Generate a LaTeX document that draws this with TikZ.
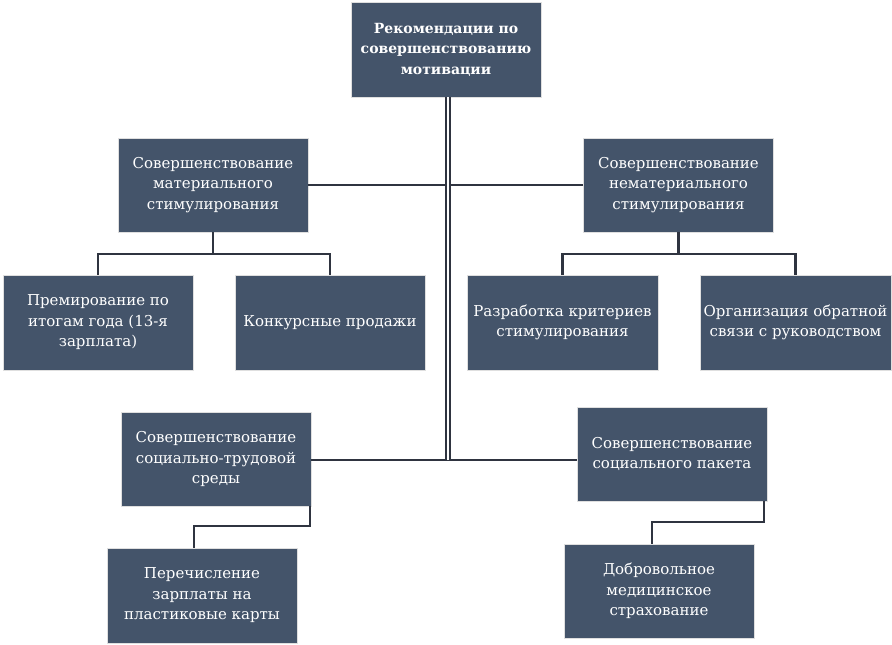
\documentclass[tikz,border=0pt]{standalone}
\usepackage{fontspec}
\setmainfont{DejaVu Serif}
\newfontfamily\boxfont{DejaVu Serif}
\definecolor{boxc}{HTML}{44546A}
\definecolor{linec}{HTML}{2F3440}
\begin{document}
\begin{tikzpicture}[x=1pt,y=-1pt,
  box/.style={rectangle, fill=boxc, draw=gray!25, line width=0.6pt, text=white,
    align=center, inner sep=0pt, minimum width=190pt, minimum height=94pt,
    font=\boxfont\fontsize{15}{20.5}\selectfont},
  conn/.style={draw=linec, line width=2.2pt},
  mainline/.style={draw=linec, line width=2pt, double=white, double distance=1.8pt}
]
\useasboundingbox (0,0) rectangle (892,645);
\fill[white] (0,0) rectangle (892,645);

\node[box, minimum height=95pt, font=\boxfont\bfseries\fontsize{14}{20.5}\selectfont] (top) at (446,49.5)
  {Рекомендации по\\совершенствованию\\мотивации};

\node[box] (mat) at (213,185) {Совершенствование\\материального\\стимулирования};
\node[box] (nonmat) at (678.5,185) {Совершенствование\\нематериального\\стимулирования};

\node[box, minimum height=95pt] (b1) at (98,322.5) {Премирование по\\итогам года (13-я\\зарплата)};
\node[box, minimum height=95pt] (b2) at (330,322.5) {Конкурсные продажи};
\node[box, minimum height=95pt, minimum width=191pt] (b3) at (562.5,322.5) {Разработка критериев\\стимулирования};
\node[box, minimum height=95pt, minimum width=191pt] (b4) at (795.5,322.5) {Организация обратной\\связи с руководством};

\node[box] (sl) at (216,459) {Совершенствование\\социально-трудовой\\среды};
\node[box] (sp) at (672,454) {Совершенствование\\социального пакета};

\node[box, minimum height=95pt] (per) at (202,595.5) {Перечисление\\зарплаты на\\пластиковые карты};
\node[box] (dms) at (659,591) {Добровольное\\медицинское\\страхование};

\coordinate (mt) at (448,97);
\coordinate (mb) at (448,460);
\coordinate (jm) at (213,254);
\coordinate (jn) at (678.5,254);

% branches from material
\draw[conn] (mat.south) -- (jm);
\draw[conn] (b1.north) |- (jm) -| (b2.north);
% branches from non-material
\draw[conn] (nonmat.south) -- (jn);
\draw[conn] (b3.north) |- (jn) -| (b4.north);
% lower branches
\draw[conn] ([xshift=-1pt]sl.south east) -- ++(0,20) -| ([xshift=-8pt]per.north);
\draw[conn] ([xshift=-3pt]sp.south east) -- ++(0,21) -| ([xshift=-7pt]dms.north);

% horizontal links to main line
\draw[conn] (mat.east) -- (mat.east -| mt);
\draw[conn] (nonmat.west) -- (nonmat.west -| mt);
\draw[conn] (sl.east |- mb) -- (sp.west |- mb);

% main vertical double line
\draw[mainline] (mt) -- (mb);
\end{tikzpicture}
\end{document}
